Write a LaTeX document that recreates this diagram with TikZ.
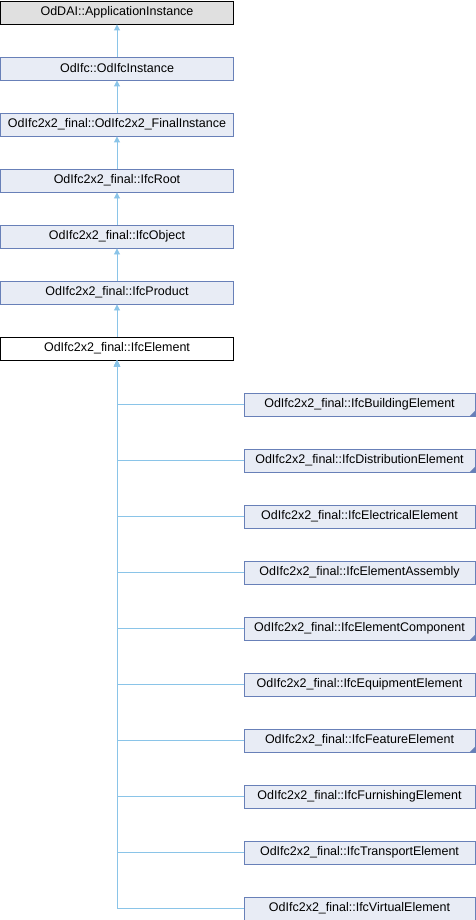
\documentclass[tikz,border=0pt]{standalone}
\usepackage{fontspec}
\setmainfont{Liberation Sans}
\usetikzlibrary{arrows.meta}
\definecolor{edgec}{RGB}{138,196,232}
\definecolor{boxfill}{RGB}{232,236,245}
\definecolor{boxdraw}{RGB}{104,128,184}
\definecolor{greyfill}{RGB}{224,224,224}
\tikzset{
  cls/.style={draw=boxdraw, fill=boxfill, line width=0.9pt, minimum height=23pt, inner sep=0pt, font=\fontsize{12.5}{15}\selectfont},
  leftcls/.style={cls, minimum width=233pt},
  rightcls/.style={cls, minimum width=231pt},
  inh/.style={draw=edgec, line width=0.9pt, -{Triangle[length=6pt,width=6pt]}},
}
\begin{document}
\begin{tikzpicture}[x=1pt,y=-1pt]
\useasboundingbox (0,0) rectangle (476,920);
\node[leftcls, fill=greyfill, draw=black] (a) at (117,12.5) {OdDAI::ApplicationInstance};
\node[leftcls] (b) at (117,68.5) {OdIfc::OdIfcInstance};
\node[leftcls] (c) at (117,124.5) {OdIfc2x2\_final::OdIfc2x2\_FinalInstance};
\node[leftcls] (d) at (117,180.5) {OdIfc2x2\_final::IfcRoot};
\node[leftcls] (e) at (117,236.5) {OdIfc2x2\_final::IfcObject};
\node[leftcls] (f) at (117,292.5) {OdIfc2x2\_final::IfcProduct};
\node[leftcls, fill=white, draw=black] (g) at (117,348.5) {OdIfc2x2\_final::IfcElement};
\draw[inh] (b.north) -- (a.south);
\draw[inh] (c.north) -- (b.south);
\draw[inh] (d.north) -- (c.south);
\draw[inh] (e.north) -- (d.south);
\draw[inh] (f.north) -- (e.south);
\draw[inh] (g.north) -- (f.south);
\node[rightcls] (r1) at (359.5,404.5) {OdIfc2x2\_final::IfcBuildingElement};
\node[rightcls] (r2) at (359.5,460.5) {OdIfc2x2\_final::IfcDistributionElement};
\node[rightcls] (r3) at (359.5,516.5) {OdIfc2x2\_final::IfcElectricalElement};
\node[rightcls] (r4) at (359.5,572.5) {OdIfc2x2\_final::IfcElementAssembly};
\node[rightcls] (r5) at (359.5,628.5) {OdIfc2x2\_final::IfcElementComponent};
\node[rightcls] (r6) at (359.5,684.5) {OdIfc2x2\_final::IfcEquipmentElement};
\node[rightcls] (r7) at (359.5,740.5) {OdIfc2x2\_final::IfcFeatureElement};
\node[rightcls] (r8) at (359.5,796.5) {OdIfc2x2\_final::IfcFurnishingElement};
\node[rightcls] (r9) at (359.5,852.5) {OdIfc2x2\_final::IfcTransportElement};
\node[rightcls] (r10) at (359.5,908.5) {OdIfc2x2\_final::IfcVirtualElement};
\foreach \r in {r1,r2,r5,r7}
  \fill[boxdraw] ([xshift=-0.5pt,yshift=-0.5pt]\r.south east) -- ++(0,-6) -- ++(-6,6) -- cycle;
\foreach \r in {r1,r2,r3,r4,r5,r6,r7,r8,r9,r10}
  \draw[inh] (\r.west) -| (g.south);
\end{tikzpicture}
\end{document}
